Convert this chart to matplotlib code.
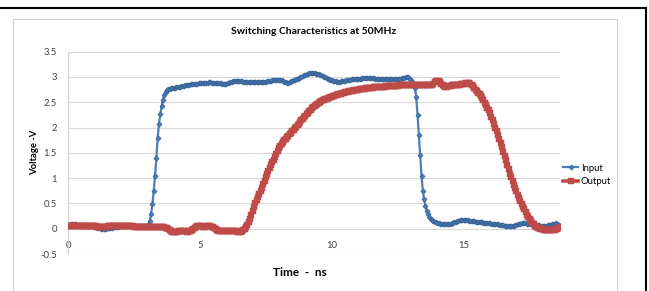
import numpy as np
import matplotlib
matplotlib.use("Agg")
import matplotlib.pyplot as plt
from matplotlib.lines import Line2D
from matplotlib.patches import Rectangle

plt.rcParams['font.family'] = ['Lato', 'DejaVu Sans']

# time samples, 0.05 ns apart
time_ns = np.round(np.arange(374) * 0.05, 2)

# Input voltage (V), one row per ns
input_v = [
    0.08, 0.08, 0.09, 0.09, 0.09, 0.09, 0.09, 0.08, 0.08, 0.08, 0.08, 0.07, 0.07, 0.07, 0.07, 0.06, 0.06, 0.06, 0.05, 0.05,
    0.04, 0.03, 0.02, 0.01, 0.01, 0.00, 0.00, 0.00, 0.00, 0.00, 0.01, 0.01, 0.02, 0.02, 0.03, 0.03, 0.04, 0.04, 0.04, 0.05,
    0.05, 0.05, 0.05, 0.05, 0.05, 0.05, 0.05, 0.05, 0.05, 0.05, 0.05, 0.05, 0.05, 0.05, 0.05, 0.05, 0.05, 0.05, 0.05, 0.05,
    0.05, 0.08, 0.15, 0.30, 0.48, 0.75, 1.05, 1.40, 1.80, 2.08, 2.27, 2.42, 2.55, 2.65, 2.71, 2.74, 2.76, 2.77, 2.78, 2.78,
    2.79, 2.79, 2.80, 2.80, 2.81, 2.81, 2.82, 2.82, 2.83, 2.84, 2.85, 2.85, 2.85, 2.86, 2.86, 2.86, 2.87, 2.87, 2.87, 2.88,
    2.88, 2.88, 2.88, 2.89, 2.89, 2.89, 2.89, 2.90, 2.90, 2.89, 2.89, 2.89, 2.89, 2.88, 2.88, 2.88, 2.88, 2.87, 2.87, 2.87,
    2.87, 2.88, 2.89, 2.90, 2.91, 2.92, 2.92, 2.92, 2.93, 2.92, 2.92, 2.92, 2.92, 2.91, 2.91, 2.91, 2.91, 2.91, 2.91, 2.91,
    2.91, 2.91, 2.91, 2.91, 2.91, 2.91, 2.91, 2.91, 2.91, 2.91, 2.91, 2.92, 2.92, 2.93, 2.93, 2.94, 2.94, 2.94, 2.95, 2.95,
    2.95, 2.95, 2.94, 2.93, 2.91, 2.90, 2.89, 2.89, 2.90, 2.92, 2.93, 2.94, 2.95, 2.96, 2.97, 2.98, 2.99, 3.00, 3.02, 3.03,
    3.04, 3.05, 3.06, 3.07, 3.07, 3.07, 3.07, 3.07, 3.06, 3.06, 3.05, 3.04, 3.03, 3.01, 3.00, 2.99, 2.98, 2.97, 2.96, 2.95,
    2.94, 2.93, 2.92, 2.92, 2.91, 2.91, 2.91, 2.92, 2.92, 2.93, 2.93, 2.94, 2.94, 2.95, 2.95, 2.96, 2.96, 2.96, 2.97, 2.97,
    2.97, 2.97, 2.97, 2.98, 2.98, 2.98, 2.98, 2.98, 2.98, 2.98, 2.98, 2.98, 2.98, 2.97, 2.97, 2.97, 2.97, 2.97, 2.97, 2.97,
    2.97, 2.97, 2.96, 2.96, 2.96, 2.96, 2.96, 2.96, 2.96, 2.96, 2.97, 2.97, 2.97, 2.98, 2.98, 2.98, 2.99, 2.99, 2.99, 2.97,
    2.94, 2.90, 2.85, 2.78, 2.60, 2.25, 1.85, 1.45, 1.05, 0.75, 0.58, 0.45, 0.36, 0.29, 0.23, 0.20, 0.18, 0.16, 0.14, 0.13,
    0.12, 0.11, 0.10, 0.10, 0.10, 0.09, 0.09, 0.09, 0.09, 0.09, 0.10, 0.11, 0.12, 0.13, 0.14, 0.15, 0.16, 0.17, 0.17, 0.18,
    0.18, 0.18, 0.17, 0.17, 0.16, 0.16, 0.15, 0.15, 0.15, 0.14, 0.14, 0.14, 0.13, 0.13, 0.13, 0.12, 0.12, 0.12, 0.11, 0.11,
    0.11, 0.10, 0.10, 0.10, 0.09, 0.09, 0.09, 0.08, 0.08, 0.07, 0.07, 0.06, 0.06, 0.06, 0.05, 0.05, 0.05, 0.05, 0.06, 0.07,
    0.08, 0.09, 0.10, 0.10, 0.11, 0.11, 0.11, 0.11, 0.10, 0.10, 0.10, 0.10, 0.09, 0.09, 0.08, 0.08, 0.07, 0.07, 0.06, 0.06,
    0.05, 0.05, 0.05, 0.06, 0.07, 0.08, 0.08, 0.09, 0.10, 0.10, 0.11, 0.10, 0.07, 0.06,
]

# Output voltage (V), one row per ns
output_v = [
    0.06, 0.06, 0.06, 0.06, 0.06, 0.06, 0.05, 0.05, 0.05, 0.05, 0.05, 0.05, 0.05, 0.05, 0.05, 0.05, 0.05, 0.05, 0.05, 0.05,
    0.05, 0.05, 0.04, 0.04, 0.04, 0.04, 0.04, 0.04, 0.04, 0.04, 0.05, 0.05, 0.05, 0.05, 0.05, 0.05, 0.05, 0.05, 0.05, 0.05,
    0.05, 0.05, 0.05, 0.05, 0.05, 0.05, 0.05, 0.05, 0.05, 0.05, 0.04, 0.04, 0.04, 0.04, 0.04, 0.04, 0.04, 0.04, 0.04, 0.04,
    0.04, 0.04, 0.04, 0.04, 0.04, 0.04, 0.04, 0.04, 0.04, 0.04, 0.04, 0.04, 0.04, 0.03, 0.02, 0.01, 0.00, -0.02, -0.04, -0.06,
    -0.07, -0.07, -0.07, -0.06, -0.05, -0.04, -0.04, -0.04, -0.05, -0.05, -0.06, -0.06, -0.05, -0.04, -0.02, 0.00, 0.02, 0.04, 0.05, 0.05,
    0.05, 0.05, 0.04, 0.04, 0.04, 0.05, 0.05, 0.05, 0.05, 0.04, 0.03, 0.01, -0.01, -0.03, -0.04, -0.05, -0.05, -0.05, -0.05, -0.05,
    -0.05, -0.05, -0.05, -0.04, -0.04, -0.04, -0.04, -0.05, -0.05, -0.06, -0.06, -0.06, -0.05, -0.03, -0.01, 0.03, 0.08, 0.14, 0.20, 0.28,
    0.36, 0.43, 0.50, 0.56, 0.62, 0.68, 0.74, 0.81, 0.88, 0.95, 1.02, 1.08, 1.14, 1.20, 1.26, 1.31, 1.36, 1.42, 1.48, 1.54,
    1.60, 1.64, 1.68, 1.72, 1.75, 1.78, 1.81, 1.84, 1.87, 1.90, 1.93, 1.96, 1.99, 2.02, 2.05, 2.08, 2.11, 2.14, 2.17, 2.20,
    2.23, 2.26, 2.29, 2.32, 2.35, 2.38, 2.40, 2.42, 2.44, 2.46, 2.48, 2.50, 2.52, 2.54, 2.55, 2.56, 2.57, 2.58, 2.59, 2.60,
    2.61, 2.62, 2.63, 2.64, 2.65, 2.66, 2.67, 2.67, 2.68, 2.69, 2.70, 2.70, 2.71, 2.72, 2.72, 2.73, 2.73, 2.74, 2.74, 2.75,
    2.75, 2.76, 2.76, 2.77, 2.77, 2.77, 2.78, 2.78, 2.78, 2.79, 2.79, 2.79, 2.80, 2.80, 2.80, 2.80, 2.81, 2.81, 2.81, 2.81,
    2.81, 2.82, 2.82, 2.82, 2.82, 2.82, 2.83, 2.83, 2.83, 2.83, 2.83, 2.84, 2.84, 2.84, 2.84, 2.84, 2.85, 2.85, 2.85, 2.85,
    2.85, 2.85, 2.85, 2.85, 2.85, 2.85, 2.85, 2.85, 2.85, 2.85, 2.85, 2.85, 2.85, 2.85, 2.85, 2.85, 2.85, 2.87, 2.90, 2.92,
    2.93, 2.92, 2.90, 2.87, 2.84, 2.82, 2.81, 2.81, 2.82, 2.83, 2.83, 2.84, 2.84, 2.84, 2.85, 2.85, 2.85, 2.85, 2.86, 2.86,
    2.87, 2.87, 2.88, 2.88, 2.88, 2.87, 2.85, 2.82, 2.78, 2.74, 2.72, 2.69, 2.66, 2.62, 2.58, 2.54, 2.49, 2.44, 2.39, 2.34,
    2.28, 2.21, 2.14, 2.07, 2.00, 1.93, 1.85, 1.77, 1.69, 1.61, 1.52, 1.44, 1.35, 1.26, 1.18, 1.09, 1.02, 0.94, 0.87, 0.80,
    0.74, 0.67, 0.61, 0.55, 0.49, 0.43, 0.38, 0.33, 0.28, 0.24, 0.20, 0.16, 0.12, 0.09, 0.06, 0.04, 0.02, 0.01, 0.00, -0.01,
    -0.01, -0.02, -0.02, -0.02, -0.02, -0.02, -0.02, -0.02, -0.02, -0.02, -0.01, 0.00, 0.01, 0.03,
]

x_ticks = [0, 5, 10, 15]
y_ticks = [-0.5, 0, 0.5, 1, 1.5, 2, 2.5, 3, 3.5]

W, H = 649, 291
fig = plt.figure(figsize=(W / 100, H / 100), dpi=100)

# outer frame and chart area border
fig.add_artist(Line2D([0, 646 / W], [1 - 8 / H, 1 - 8 / H], color='black', lw=1.5))
fig.add_artist(Line2D([646 / W, 646 / W], [0, 1 - 8 / H], color='black', lw=1.5))
fig.add_artist(Rectangle((13 / W, -0.01), (617 - 13) / W, 1 - 19 / H + 0.01,
                         fill=False, edgecolor='#d0d0d0', lw=0.8))

ax = fig.add_axes([68 / W, 1 - 254 / H, (560 - 68) / W, (254 - 51.7) / H])

ax.plot(time_ns, input_v, color='#4A7EBB', lw=1.6, marker='D', ms=2.6,
        mfc='#4A7EBB', mec='#35608F', mew=0.5, label='Input', zorder=3)
ax.plot(time_ns, output_v, color='#BE4B48', lw=2.6, marker='s', ms=4.3,
        mfc='#BE4B48', mec='#BE4B48', mew=0.3, label='Output', zorder=4)

ax.set_xlim(0, time_ns[-1])
ax.set_ylim(-0.5, 3.5)
ax.set_yticks(y_ticks)
ax.set_yticklabels(['-0.5', '0', '0.5', '1', '1.5', '2', '2.5', '3', '3.5'])
ax.set_xticks(x_ticks)
ax.grid(axis='y', color='#d9d9d9', lw=0.8)
ax.set_axisbelow(True)
for s in ['top', 'right']:
    ax.spines[s].set_visible(False)
ax.spines['left'].set_color('#d0d0d0')
ax.spines['left'].set_linewidth(0.8)
ax.spines['bottom'].set_position(('data', 0))
ax.spines['bottom'].set_visible(False)
ax.tick_params(axis='y', length=0, pad=8, labelsize=6.8, labelcolor='#404040')
ax.tick_params(axis='x', length=0, pad=9, labelsize=6.8, labelcolor='#404040')

fig.text(314 / W, 1 - 32 / H, 'Switching Characteristics at 50MHz',
         ha='center', va='center', fontsize=7.5, fontweight='bold')
fig.text(35 / W, 1 - 152 / H, 'Voltage -V', rotation=90, ha='center',
         va='center', fontsize=6.8, fontweight='bold')
fig.text(300 / W, 1 - 273 / H, 'Time  -  ns', ha='center', va='center',
         fontsize=8.5, fontweight='bold')

fig.legend(handles=ax.get_lines(), loc='center left',
           bbox_to_anchor=(563 / W, 1 - 175 / H), frameon=False,
           fontsize=6.8, handlelength=1.6, handletextpad=0.3,
           labelspacing=0.5, borderaxespad=0, borderpad=0)

fig.savefig('out.png', dpi=100)
